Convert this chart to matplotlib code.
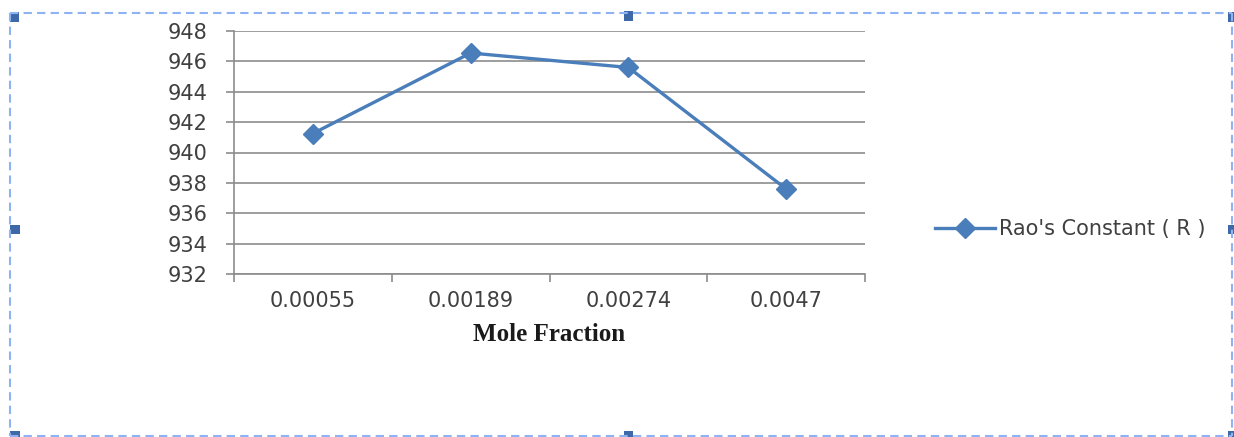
import matplotlib
matplotlib.use("Agg")
import matplotlib.pyplot as plt
from matplotlib.lines import Line2D
from matplotlib.patches import Rectangle

categories = ["0.00055", "0.00189", "0.00274", "0.0047"]
rao_constant = [941.25, 946.55, 945.6, 937.6]
y_ticks = [932, 934, 936, 938, 940, 942, 944, 946, 948]
series_name = "Rao's Constant ( R )"
x_label = "Mole Fraction"

W, H = 1234, 437
fig = plt.figure(figsize=(W / 100, H / 100), dpi=100)
fig.patch.set_facecolor("white")

def fx(x):
    return x / W

def fy(y):
    return 1 - y / H

ax = fig.add_axes([fx(234), fy(274), fx(865) - fx(234), fy(31) - fy(274)])

line_color = "#4A7EBB"
grid_color = "#8C8C8C"
tick_font = dict(family="DejaVu Sans", size=15, color="#404040")

xs = list(range(len(categories)))
ax.plot(xs, rao_constant, color=line_color, lw=2.4, marker="D", ms=10,
        markerfacecolor=line_color, markeredgecolor=line_color, zorder=3,
        label=series_name)

ax.set_xlim(-0.5, len(categories) - 0.5)
ax.set_ylim(y_ticks[0], y_ticks[-1])
ax.set_yticks(y_ticks)
ax.set_yticklabels([str(v) for v in y_ticks], **tick_font)

ax.set_xticks([i - 0.5 for i in range(len(categories) + 1)])
ax.set_xticklabels([""] * (len(categories) + 1))
ax.set_xticks(xs, minor=True)
ax.set_xticklabels(categories, minor=True, **tick_font)
ax.tick_params(axis="x", which="major", direction="out", length=6, width=1.2,
               color=grid_color)
ax.tick_params(axis="x", which="minor", length=0, pad=12)
ax.tick_params(axis="y", direction="out", length=6, width=1.2,
               color=grid_color, pad=13)

ax.grid(axis="y", color=grid_color, lw=1.2)
ax.set_axisbelow(True)
for s in ["top", "right"]:
    ax.spines[s].set_visible(False)
for s in ["left", "bottom"]:
    ax.spines[s].set_color(grid_color)
    ax.spines[s].set_linewidth(1.2)

ax.set_xlabel(x_label, family="Liberation Serif", weight="bold", size=18,
              color="#1a1a1a", labelpad=9)

leg = fig.legend(loc="center left", bbox_to_anchor=(fx(916), fy(229)),
                 frameon=False, handlelength=2.9, handletextpad=0.2,
                 prop=dict(family="DejaVu Sans", size=15))
for t in leg.get_texts():
    t.set_color("#404040")

# selection frame (dashed border with handles)
border_color = "#8DB3F2"
dash = dict(color=border_color, lw=1.5, linestyle=(0, (4, 2.5)))
fig.add_artist(Line2D([fx(10), fx(1232)], [fy(13), fy(13)], **dash))
fig.add_artist(Line2D([fx(10), fx(10)], [fy(13), fy(436)], **dash))
fig.add_artist(Line2D([fx(1232), fx(1232)], [fy(13), fy(436)], **dash))
fig.add_artist(Line2D([fx(10), fx(1232)], [fy(436), fy(436)], **dash))

handle_color = "#3D69A8"
hs = 9
for (hx, hy) in [(14, 17), (628, 16), (15, 229), (15, 435), (628, 436),
                 (1232, 229), (1232, 17), (1232, 435)]:
    fig.add_artist(Rectangle((fx(hx - hs / 2), fy(hy + hs / 2)), hs / W, hs / H,
                             transform=fig.transFigure, color=handle_color,
                             lw=0))

fig.savefig("out.png", dpi=100, facecolor="white")
